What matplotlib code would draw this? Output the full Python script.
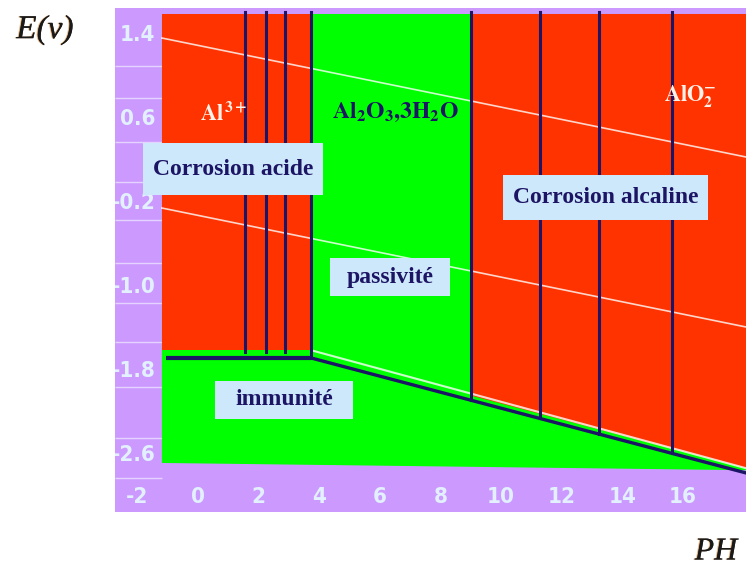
import numpy as np
import matplotlib
matplotlib.use("Agg")
import matplotlib.pyplot as plt
from matplotlib.patches import Polygon, Rectangle
import matplotlib.patheffects as pe

plt.rcParams['mathtext.fontset'] = 'stix'

# --- data (pH, E in volts) ---
ph_min, ph_max = -1.19, 18.08        # coloured area
e_top = 1.60
green_bottom_ph = [-1.19, 18.08]
green_bottom_e = [-2.676, -2.745]

al3_red_ph = [-1.19, 3.73]          # Al3+ corrosion zone
al3_red_e = [-1.60, 1.60]
immunity_ph = [-1.06, 3.73]          # Al3+/Al boundary
immunity_e = [-1.676, -1.676]
slope_ph = [3.73, 18.08]             # oxide / AlO2- -> Al boundary
slope_e = [-1.676, -2.771]
alo2_start_ph = 9.01                 # Al2O3,3H2O / AlO2- boundary

acid_lines_ph = [1.55, 2.24, 2.87]
alk_lines_ph = [9.01, 11.28, 13.23, 15.64]

water_upper_e = [1.371, 0.238]       # O2/H2O line at ph_min, ph_max
water_lower_e = [-0.248, -1.381]     # H2O/H2 line

x_ticks = [-2, 0, 2, 4, 6, 8, 10, 12, 14, 16]
y_ticks = [1.4, 0.6, -0.2, -1.0, -1.8, -2.6]
y_tick_labels = ['1.4', '0.6', '-0.2', '-1.0', '-1.8', '-2.6']
margin_grid_e = [1.1, 0.8, 0.38, 0.0, -0.36, -0.77, -1.15, -1.52, -1.95, -2.44, -2.82]

# colours
purple = '#cc99ff'
red = '#ff3300'
green = '#00ff00'
navy = '#1c1464'
box_col = '#cde8fa'
tick_col = '#e2f0ff'

fig = plt.figure(figsize=(7.46, 5.70), dpi=100)
ax = fig.add_axes([115 / 746, 58 / 570, 631 / 746, 504 / 570])
ax.set_xlim(-2.738, 18.08)
ax.set_ylim(-3.143, 1.657)
ax.set_facecolor(purple)
for s in ax.spines.values():
    s.set_visible(False)
ax.set_xticks([])
ax.set_yticks([])

# grid lines visible in the left margin
ax.hlines(margin_grid_e, -2.738, ph_min, colors='#e4d2ff', lw=1, zorder=1)

# green background of the diagram
green_poly = [(green_bottom_ph[0], green_bottom_e[0]), (green_bottom_ph[1], green_bottom_e[1]),
              (ph_max, e_top), (ph_min, e_top)]
ax.add_patch(Polygon(green_poly, closed=True, fc=green, ec='none', zorder=2))

# red Al3+ zone
ax.add_patch(Rectangle((al3_red_ph[0], al3_red_e[0]), al3_red_ph[1] - al3_red_ph[0],
                       al3_red_e[1] - al3_red_e[0], fc=red, ec='none', zorder=3))

# red AlO2- zone, bounded below by the sloping line
offset = 0.045
e_at_start = np.interp(alo2_start_ph, slope_ph, slope_e) + offset
red_right = [(alo2_start_ph, e_top), (alo2_start_ph, e_at_start),
             (slope_ph[1], slope_e[1] + offset), (ph_max, e_top)]
ax.add_patch(Polygon(red_right, closed=True, fc=red, ec='none', zorder=3))

# water stability lines
ax.plot([ph_min, ph_max], water_upper_e, color='white', alpha=0.8, lw=1.2, zorder=4)
ax.plot([ph_min, ph_max], water_lower_e, color='white', alpha=0.8, lw=1.2, zorder=4)
ax.plot([slope_ph[0] + 0.05, slope_ph[1]], [slope_e[0] + 0.07, slope_e[1] + offset],
        color='white', alpha=0.8, lw=1.5, zorder=4)

# dark boundary lines
for p in acid_lines_ph:
    ax.plot([p, p], [1.62, al3_red_e[0] - 0.02], color=navy, lw=2.2, zorder=5)
ax.plot([slope_ph[0], slope_ph[0]], [1.62, slope_e[0]], color=navy, lw=2.2, zorder=5)
for p in alk_lines_ph:
    ax.plot([p, p], [1.62, np.interp(p, slope_ph, slope_e)], color=navy, lw=2.2, zorder=5)
ax.plot(immunity_ph, immunity_e, color=navy, lw=3, solid_capstyle='butt', zorder=5)
ax.plot(slope_ph, slope_e, color=navy, lw=2.4, zorder=5)

# tick labels drawn inside the purple frame
tick_font = dict(family='DejaVu Sans', fontstretch='condensed', fontsize=16,
                 color=tick_col, fontweight='bold')
for xt in x_ticks:
    ax.text(xt, -3.0, str(xt), ha='center', va='center', zorder=6, clip_on=True, **tick_font)
for yt, lab in zip(y_ticks, y_tick_labels):
    ax.text(-1.40, yt, lab, ha='right', va='center', zorder=6, clip_on=True, **tick_font)

# region labels
boxes = [
    ('Corrosion acide', (-1.815, -0.124), 5.94, 0.495),
    ('passivité', (4.355, -1.086), 3.96, 0.362),
    ('Corrosion alcaline', (10.063, -0.362), 6.76, 0.429),
    ('immunité', (0.561, -2.257), 4.55, 0.362),
]
for label, (x0, y0), w, h in boxes:
    ax.add_patch(Rectangle((x0, y0), w, h, fc=box_col, ec='none', zorder=7))
    ax.text(x0 + w / 2, y0 + h / 2, label, ha='center', va='center',
            family='Liberation Serif', fontweight='bold', fontsize=17, color=navy, zorder=8)

ax.text(0.07, 0.657, r'$\mathbf{Al}^{\,\mathbf{3+}}$', ha='left', va='center',
        fontsize=16, color='#fff2ea', zorder=6)
ax.text(6.53, 0.667, r'$\mathbf{Al_2O_3{,}3H_2O}$', ha='center', va='center',
        fontsize=17, color=navy, zorder=6)
ax.text(16.23, 0.81, r'$\mathbf{AlO_2^{-}}$', ha='center', va='center',
        fontsize=16, color='#fff2ea', zorder=6)

# axis titles
shadow = [pe.withSimplePatchShadow(offset=(-0.8, 0), shadow_rgbFace='#d07a20', alpha=0.6), pe.Normal()]
fig.text(45 / 746, 1 - 30 / 570, 'E(v)', ha='center', va='center', family='Liberation Serif',
         style='italic', fontsize=24, color='#1a1a1a', path_effects=shadow)
fig.text(716 / 746, 1 - 552 / 570, 'PH', ha='center', va='center', family='Liberation Serif',
         style='italic', fontsize=23, color='#1a1a1a', path_effects=shadow)

fig.savefig('out.png', dpi=100)
